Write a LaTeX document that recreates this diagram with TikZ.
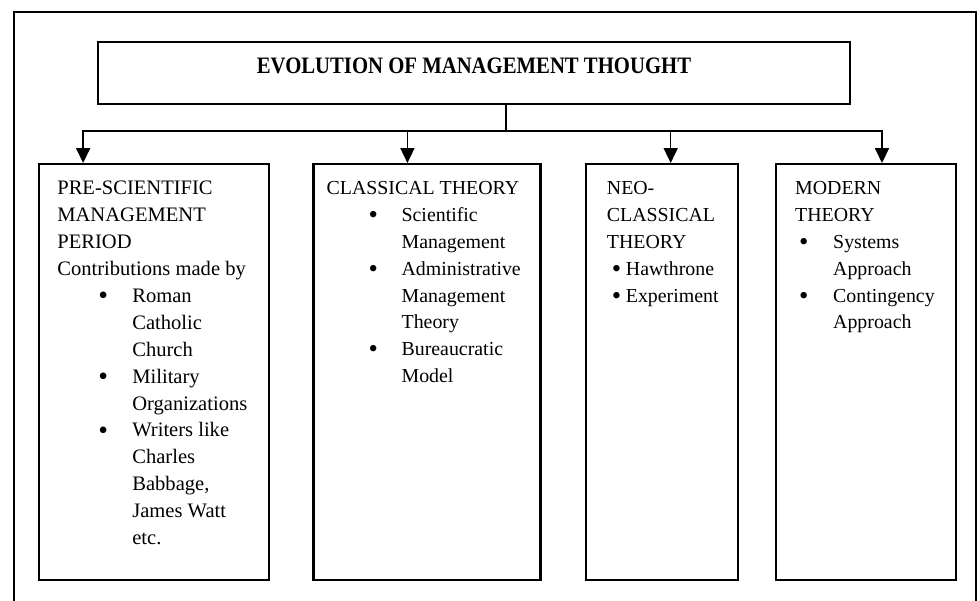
\documentclass[tikz,border=0pt]{standalone}
\usepackage{fontspec}
\setmainfont{Liberation Serif}
\newfontfamily\headfont[FakeStretch=0.88]{Liberation Serif}
\usetikzlibrary{positioning,arrows.meta}
\newlength{\bind}
\newlength{\bgap}
\newcommand{\bitem}[1]{\hspace*{\bind}\makebox[\bgap][l]{\raisebox{-0.1em}{\scalebox{1.35}{\textbullet}}}#1}
\newcommand{\bmore}[1]{\hspace*{\bind}\hspace*{\bgap}#1}

\begin{document}
\begin{tikzpicture}[box/.style={draw,line width=1.3pt,minimum height=8.32cm,inner sep=0pt},
txt/.style={inner sep=0pt,align=left,font=\fontsize{11.3}{15.3}\selectfont},
link/.style={line width=0.8pt},
arr/.style={link,-{Triangle[length=8.5pt,width=8pt]}}]
\useasboundingbox (0,0) rectangle (19.6,-12);
\draw[line width=1.4pt] (0.28,-12.2) -- (0.28,-0.24) -- (19.52,-0.24) -- (19.52,-12.2);

\node[draw,line width=1.3pt,minimum width=15.04cm,minimum height=1.24cm,text height=9pt,text depth=9pt,
  font=\headfont\bfseries\fontsize{13.4}{16}\selectfont] (title) at (9.48,-1.46) {EVOLUTION OF MANAGEMENT THOUGHT};

\node[box,minimum width=4.6cm,anchor=north west] (pre) at (0.76,-3.26) {};
\node[box,minimum width=4.54cm] (classical) [right=0.84cm of pre] {};
\node[box,minimum width=3.04cm] (neo) [right=0.86cm of classical] {};
\node[box,minimum width=3.6cm] (modern) [right=0.72cm of neo] {};

% texts
\setlength{\bind}{0.82cm}\setlength{\bgap}{0.68cm}
\node[txt,font=\fontsize{11.7}{15.3}\selectfont] (pretext) [below right=0.36cm and 0.38cm of pre.north west] {PRE-SCIENTIFIC\\MANAGEMENT\\PERIOD\\Contributions made by\\
\bitem{Roman}\\\bmore{Catholic}\\\bmore{Church}\\\bitem{Military}\\\bmore{Organizations}\\
\bitem{Writers like}\\\bmore{Charles}\\\bmore{Babbage,}\\\bmore{James Watt}\\\bmore{etc.}};

\setlength{\bind}{0.84cm}\setlength{\bgap}{0.66cm}
\node[txt] (classtext) [below right=0.36cm and 0.28cm of classical.north west] {CLASSICAL THEORY\\
\bitem{Scientific}\\\bmore{Management}\\\bitem{Administrative}\\\bmore{Management}\\\bmore{Theory}\\
\bitem{Bureaucratic}\\\bmore{Model}};

\setlength{\bind}{0.1cm}\setlength{\bgap}{0.28cm}
\node[txt] (neotext) [below right=0.36cm and 0.44cm of neo.north west] {NEO-\\CLASSICAL\\THEORY\\
\bitem{Hawthrone}\\\bitem{Experiment}};

\setlength{\bind}{0.08cm}\setlength{\bgap}{0.68cm}
\node[txt] (modtext) [below right=0.36cm and 0.4cm of modern.north west] {MODERN\\THEORY\\
\bitem{Systems}\\\bmore{Approach}\\\bitem{Contingency}\\\bmore{Approach}};

% connectors
\path ([xshift=0.64cm]title.south) ++(0,-0.52) coordinate (split);
\draw[link] ([xshift=0.64cm]title.south) -- (split);
\draw[arr] (split) -| ([xshift=-1.42cm]pre.north);
\draw[arr] (split) -| ([xshift=-0.39cm]classical.north);
\draw[arr] (split) -| ([xshift=0.18cm]neo.north);
\draw[arr] (split) -| ([xshift=0.32cm]modern.north);
\end{tikzpicture}
\end{document}
